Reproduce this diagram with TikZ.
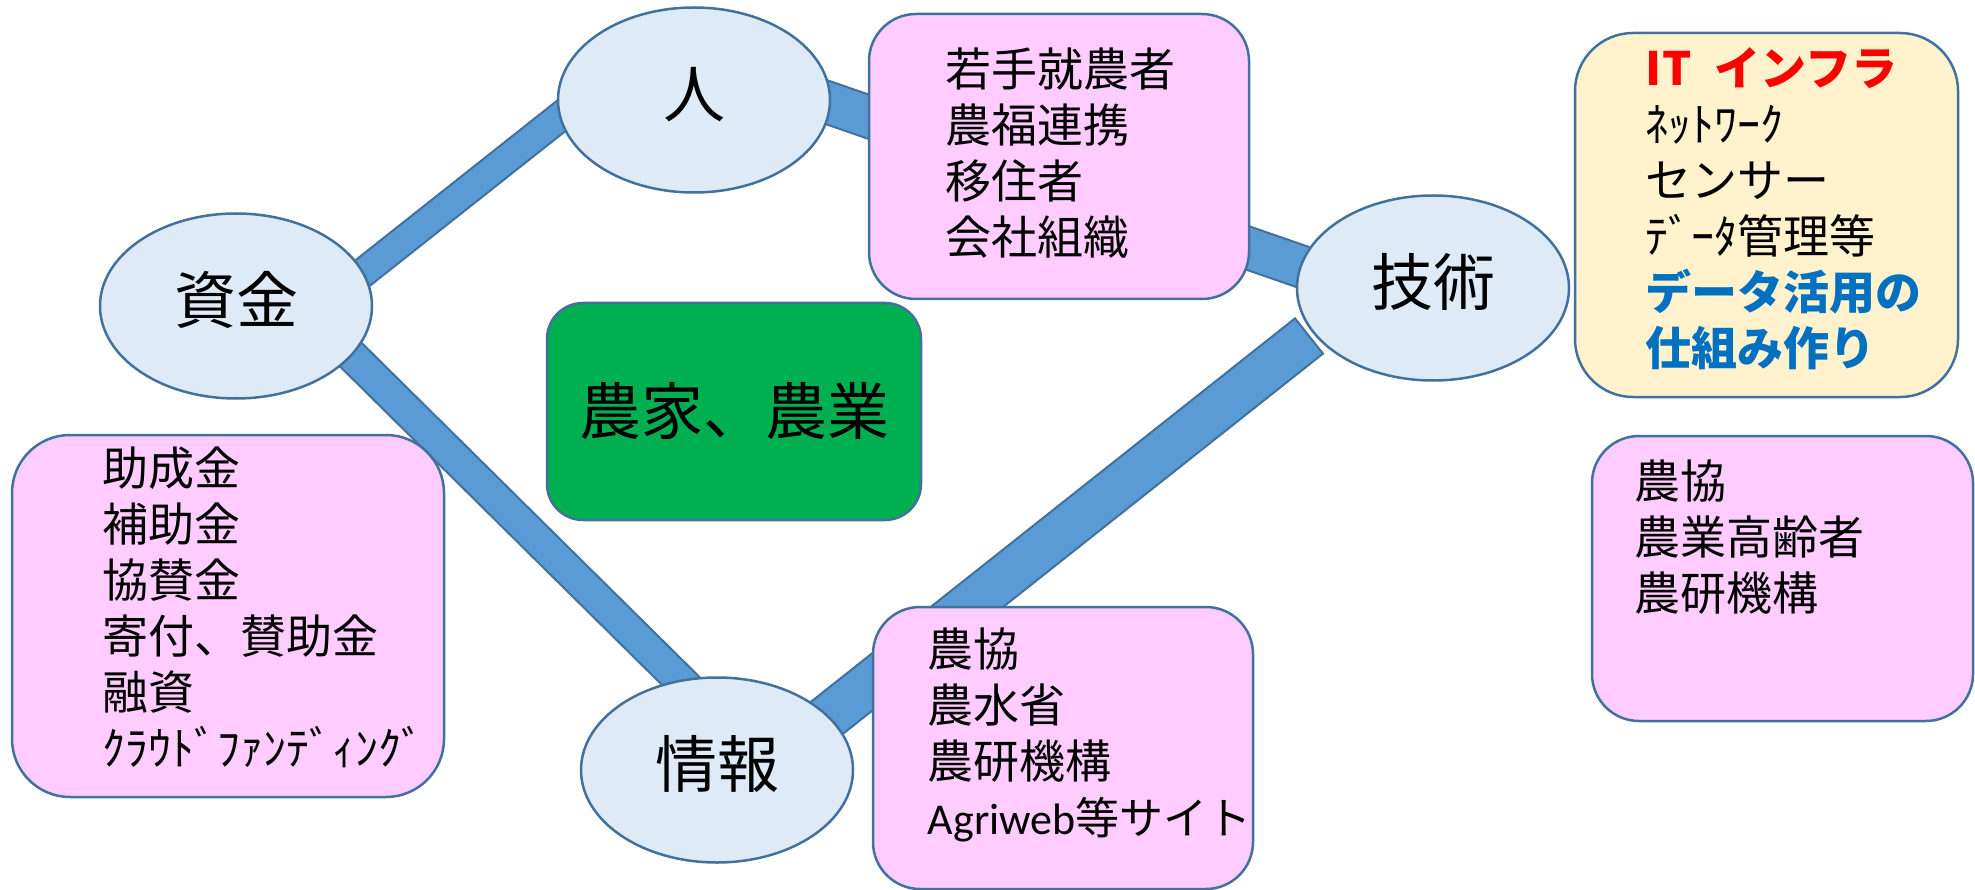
\documentclass[tikz,border=0pt]{standalone}
\usepackage{fontspec}
\setmainfont{Noto Sans CJK JP}
\newfontfamily\latinfont{Carlito}
\usepackage{xcolor}
\usepackage{tikz}
\usetikzlibrary{shapes.geometric, positioning, calc}

\definecolor{bandfill}{HTML}{5B9BD5}
\definecolor{bandedge}{HTML}{41719C}
\definecolor{topicfill}{HTML}{DEEBF7}
\definecolor{listfill}{HTML}{FFCCFF}
\definecolor{corefill}{HTML}{00B050}
\definecolor{techfill}{HTML}{FFF2CC}
\definecolor{itred}{HTML}{FF0000}
\definecolor{itblue}{HTML}{0070C0}

% thick band between two points: from, to, half width
\newcommand{\drawband}[3]{%
  \filldraw[fill=bandfill, draw=bandedge, line width=2pt]
    ($(#1)!#3!90:(#2)$) -- ($(#2)!#3!-90:(#1)$) --
    ($(#2)!#3!90:(#1)$) -- ($(#1)!#3!-90:(#2)$) -- cycle;}

\begin{document}
\begin{tikzpicture}[x=1pt, y=-1pt,
  topic/.style={ellipse, draw=bandedge, line width=2.5pt, fill=topicfill,
                minimum width=272pt, minimum height=185pt, inner sep=0pt,
                text height=45pt, text depth=10pt,
                font=\fontsize{62}{62}\selectfont},
  lst/.style={rectangle, rounded corners=47pt, draw=bandedge, line width=2.5pt,
              fill=listfill, inner sep=0pt},
  core/.style={rectangle, rounded corners=36pt, draw=bandedge, line width=2.5pt,
               fill=corefill, inner sep=0pt, minimum width=374pt,
               minimum height=217pt, font=\fontsize{62}{62}\selectfont},
  txt/.style={align=left, inner sep=0pt, font=\fontsize{46}{56}\selectfont}
]
\useasboundingbox (0,0) rectangle (1975,890);
%% Bands
\coordinate (b1s) at (350,283);  \coordinate (b1e) at (575,105);
\coordinate (b2s) at (800,93);   \coordinate (b2e) at (1320,273);
\coordinate (b3s) at (340,344);  \coordinate (b3e) at (700,700);
\coordinate (b4s) at (1309,336); \coordinate (b4e) at (780,755);
\drawband{b1s}{b1e}{14.5pt}
\drawband{b2s}{b2e}{21pt}
\drawband{b3s}{b3e}{16pt}
\drawband{b4s}{b4e}{22.5pt}
%% Topics
\node[topic] (shikin)  at (236,306)  {資金};
\node[topic] (hito)    at (694,100)  {人};
\node[topic] (gijutsu) at (1433,288) {技術};
\node[topic] (joho)    at (717,770)  {情報};
%% Core
\node[core] (nouka) at (734,411.5) {農家、農業};
%% Lists
\node[lst, minimum width=380pt, minimum height=285pt] (hitolist) at (1059,156.5) {};
\node[txt, right=78pt of hitolist.west, yshift=3pt] (hitotxt)
  {若手就農者\\農福連携\\移住者\\会社組織};
\node[lst, fill=techfill, rounded corners=58pt, minimum width=383pt,
      minimum height=364pt] (techlist) at (1766.5,215) {};
\node[txt, right=72pt of techlist.west, yshift=6pt] (techtxt)
  {\textcolor{itred}{\bfseries IT\enspace インフラ}\\ﾈｯﾄﾜｰｸ\\センサー\\ﾃﾞｰﾀ管理等\\
   \textcolor{itblue}{\bfseries データ活用の}\\\textcolor{itblue}{\bfseries 仕組み作り}};
\node[lst, minimum width=381pt, minimum height=285pt] (orglist) at (1782.5,578.5) {};
\node[txt, right=44pt of orglist.west, yshift=41pt] (orgtxt)
  {農協\\農業高齢者\\農研機構};
\node[lst, rounded corners=58pt, minimum width=432pt, minimum height=362pt]
  (shikinlist) at (228,616) {};
\node[txt, right=92pt of shikinlist.west, yshift=9pt] (shikintxt)
  {助成金\\補助金\\協賛金\\寄付、賛助金\\融資\\ｸﾗｳﾄﾞﾌｧﾝﾃﾞｨﾝｸﾞ};
\node[lst, minimum width=380pt, minimum height=282pt] (joholist) at (1063,748) {};
\node[txt, right=56pt of joholist.west, yshift=13pt] (johotxt)
  {農協\\農水省\\農研機構\\{\fontsize{44}{56}\selectfont{\latinfont Agriweb}等サイト}};
\end{tikzpicture}
\end{document}
